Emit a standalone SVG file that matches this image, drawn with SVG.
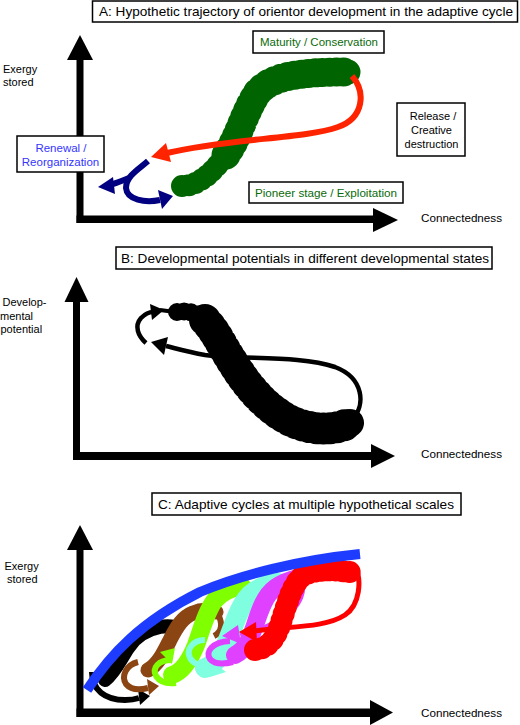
<svg xmlns="http://www.w3.org/2000/svg" width="520" height="725" viewBox="0 0 520 725">
<style>
text{font-family:"Liberation Sans",Arial,Helvetica,sans-serif;}
.title{font-size:13px;fill:#000}
.lbl{font-size:11px;fill:#000}
.grn{font-size:11.5px;fill:#0a6a0a}
.blu{font-size:11.5px;fill:#3535ff}
.box{fill:#fff;stroke:#000;stroke-width:1.5}
.ax{fill:#000}
.band{fill:none;stroke-linecap:round;stroke-linejoin:round}
.bump{fill:none;stroke-linecap:round;stroke-dasharray:0 7}
.ln{fill:none;stroke-linecap:butt;stroke-linejoin:round}
</style>
<rect x="0" y="0" width="520" height="725" fill="#fff"/>

<!-- Panel A -->
<g id="panelA-axes" class="ax">
  <rect x="76.5" y="56" width="7" height="167"/>
  <polygon points="67,60 80,35 93,60"/>
  <rect x="76.5" y="215.5" width="298" height="7.5"/>
  <polygon points="373,208 398,220 373,232"/>
</g>
<g id="titleA">
  <rect class="box" x="92.5" y="1" width="425" height="21"/>
  <text class="title" x="99" y="16" textLength="414" lengthAdjust="spacingAndGlyphs">A: Hypothetic trajectory of orientor development in the adaptive cycle</text>
</g>
<g id="axisA-y-label">
  <text class="lbl" x="3" y="72.5">Exergy</text>
  <text class="lbl" x="3" y="86">stored</text>
</g>
<g id="axisA-x-label">
  <text class="lbl" x="421" y="222" textLength="81" lengthAdjust="spacingAndGlyphs">Connectedness</text>
</g>
<g id="trajA-green">
  <path class="band" stroke="#006400" stroke-width="20" d="M182,186 C200,186 215,170 228,152"/>
  <path class="bump" stroke="#006400" stroke-width="22" d="M182,186 C200,186 215,170 228,152"/>
  <path class="band" stroke="#006400" stroke-width="25" d="M226,155 C240,135 245,110 258,92 C272,76 300,72 348,72"/>
  <path class="bump" stroke="#006400" stroke-width="29" d="M226,155 C240,135 245,110 258,92 C272,76 300,72 348,72"/>
</g>
<g id="connectorsA">
  <path class="ln" stroke="#ff2400" stroke-width="6" d="M352,76 C366,92 364,118 338,127 C305,139 230,138 167,153"/>
  <polygon fill="#ff2400" points="151,157 166,143 171,162"/>
  <path class="ln" stroke="#000080" stroke-width="6" d="M148,161 C139,169 126,176 126,188 C127,200 145,203 160,200"/>
  <polygon fill="#000080" points="173,196 158,190 162,209"/>
  <path class="ln" stroke="#000080" stroke-width="6" d="M129,178 C122,181 116,183 110,185"/>
  <polygon fill="#000080" points="98,187 113,177 115,194"/>
</g>
<g id="maturity">
  <rect class="box" x="253" y="31" width="131" height="22"/>
  <text class="grn" x="260" y="46" textLength="118" lengthAdjust="spacingAndGlyphs">Maturity / Conservation</text>
</g>
<g id="release">
  <rect class="box" x="397" y="103" width="68" height="53"/>
  <text class="lbl" x="433" y="120" text-anchor="middle" font-size="11.5">Release /</text>
  <text class="lbl" x="431.5" y="133.5" text-anchor="middle" font-size="11.5">Creative</text>
  <text class="lbl" x="431.5" y="147.5" text-anchor="middle" font-size="11.5">destruction</text>
</g>
<g id="pioneer">
  <rect class="box" x="249" y="182" width="154" height="21"/>
  <text class="grn" x="255" y="197" textLength="142" lengthAdjust="spacingAndGlyphs">Pioneer stage / Exploitation</text>
</g>
<g id="renewal">
  <rect class="box" x="17" y="136" width="87" height="36"/>
  <text class="blu" x="61" y="151.5" text-anchor="middle">Renewal /</text>
  <text class="blu" x="60.5" y="166" text-anchor="middle">Reorganization</text>
</g>

<!-- Panel B -->
<g id="panelB-axes" class="ax">
  <rect x="73" y="298" width="7" height="162"/>
  <polygon points="64.5,302 76.5,277 88.5,302"/>
  <rect x="73" y="452" width="300" height="8"/>
  <polygon points="371,444 395,456 371,468"/>
</g>
<g id="titleB">
  <rect class="box" x="116" y="247" width="376" height="22"/>
  <text class="title" x="121" y="263" textLength="368" lengthAdjust="spacingAndGlyphs">B: Developmental potentials in different developmental states</text>
</g>
<g id="axisB-y-label">
  <text class="lbl" x="2.5" y="305.5">Develop-</text>
  <text class="lbl" x="0" y="319.5">mental</text>
  <text class="lbl" x="0.5" y="333">potential</text>
</g>
<g id="axisB-x-label">
  <text class="lbl" x="421" y="458" textLength="81" lengthAdjust="spacingAndGlyphs">Connectedness</text>
</g>
<g id="trajB-black">
  <path class="band" stroke="#000" stroke-width="15" d="M177,312 C190,310 200,314 208,322"/>
  <path class="bump" stroke="#000" stroke-width="18" d="M177,312 C190,310 200,314 208,322"/>
  <path class="band" stroke="#000" stroke-width="28" d="M205,320 C214,330 218,338 224,348 C240,375 257,402 287,419 C312,432 335,430 350,423"/>
  <path class="bump" stroke="#000" stroke-width="32" d="M205,320 C214,330 218,338 224,348 C240,375 257,402 287,419 C312,432 335,430 350,423"/>
</g>
<g id="connectorsB">
  <path class="ln" stroke="#000" stroke-width="4.5" d="M352,420 C366,405 364,378 335,367 C300,355 245,360 205,355 C188,352 178,349 166,346"/>
  <polygon fill="#000" points="151,342 168,337 164,355"/>
  <path class="ln" stroke="#000" stroke-width="4.5" d="M146,343 C138,336 134,326 141,318 C145,314 149,312 153,312"/>
  <polygon fill="#000" points="164,310 150,304 152,320"/>
  <path class="ln" stroke="#000" stroke-width="4" d="M160,310 L175,312"/>
</g>

<!-- Panel C -->
<g id="panelC-axes" class="ax">
  <rect x="76.5" y="547" width="7" height="170"/>
  <polygon points="67,550 80,525 93,550"/>
  <rect x="76.5" y="708.5" width="295" height="8.5"/>
  <polygon points="370,700 393,712.5 370,725"/>
</g>
<g id="titleC">
  <rect class="box" x="152" y="493" width="309" height="22"/>
  <text class="title" x="158" y="508.5" textLength="296" lengthAdjust="spacingAndGlyphs">C: Adaptive cycles at multiple hypothetical scales</text>
</g>
<g id="axisC-y-label">
  <text class="lbl" x="4.5" y="570">Exergy</text>
  <text class="lbl" x="7" y="583">stored</text>
</g>
<g id="axisC-x-label">
  <text class="lbl" x="421" y="717" textLength="81" lengthAdjust="spacingAndGlyphs">Connectedness</text>
</g>

<g id="cycle-black">
  <path class="band" stroke="#000" stroke-width="14" d="M105,680 C115,672 120,660 128,648 C135,637 145,630 160,627 C165,626 170,626 175,627"/>
  <path class="ln" stroke="#000" stroke-width="6" d="M92,672 C92,690 105,700 125,700 C132,700 136,699 139,698"/>
  <polygon fill="#000" points="150,696 138,689 140,705"/>
</g>
<g id="cycle-brown">
  <path class="band" stroke="#8b4513" stroke-width="15" d="M148,670 C158,665 164,652 170,640 C177,626 183,617 193,613 C202,609 210,610 216,612"/>
  <path class="ln" stroke="#8b4513" stroke-width="6" d="M218,614 C223,624 222,632 214,636"/>
  <path class="ln" stroke="#8b4513" stroke-width="6" d="M138,662 C126,665 121,676 126,684 C131,690 140,690 148,688"/>
  <polygon fill="#8b4513" points="159,686 147,679 149,695"/>
</g>
<g id="cycle-green">
  <path class="band" stroke="#80ff00" stroke-width="18" d="M172,675 C182,672 190,660 196,645 C202,628 207,610 215,600 C222,592 230,588 242,586"/>
  <path class="ln" stroke="#80ff00" stroke-width="6" d="M172,660 C158,660 152,668 156,676 C160,682 168,684 176,683"/>
  <polygon fill="#80ff00" points="160,652 175,648 172,664"/>
</g>
<g id="cycle-cyan">
  <path class="band" stroke="#80ffe0" stroke-width="20" d="M205,668 C215,665 222,655 228,640 C235,622 240,605 250,595 C258,588 265,585 278,583"/>
  <path class="ln" stroke="#80ffe0" stroke-width="6" d="M205,640 C192,640 186,650 190,658 C194,665 203,667 212,668"/>
  <polygon fill="#80ffe0" points="226,672 211,661 210,677"/>
</g>
<g id="cycle-magenta">
  <path class="band" stroke="#e040ff" stroke-width="18" d="M235,655 C245,650 250,640 255,625 C260,610 265,595 275,588 C283,582 290,580 298,578"/>
  <path class="ln" stroke="#e040ff" stroke-width="5" d="M303,585 C303,605 285,626 240,634"/>
  <polygon fill="#e040ff" points="222,636 238,625 241,644"/>
  <path class="ln" stroke="#e040ff" stroke-width="6" d="M230,641 C212,642 205,652 210,659 C215,665 225,664 233,662"/>
</g>
<g id="cycle-red">
  <path class="band" stroke="#ff0000" stroke-width="20" d="M255,650 C268,648 275,640 280,625 C287,605 290,590 300,578 C312,568 335,570 350,572"/>
  <path class="bump" stroke="#ff0000" stroke-width="22" d="M255,650 C268,648 275,640 280,625 C287,605 290,590 300,578 C312,568 335,570 350,572"/>
  <path class="ln" stroke="#ff0000" stroke-width="5" d="M355,566 C362,580 360,605 345,615 C325,628 290,626 254,631"/>
  <polygon fill="#ff0000" points="239,632 256,622 257,642"/>
</g>
<g id="envelope-blue">
  <path class="ln" stroke="#1e3cff" stroke-width="10" d="M87,690 C110,655 140,622 200,592 C240,575 300,560 360,554"/>
</g>
</svg>
